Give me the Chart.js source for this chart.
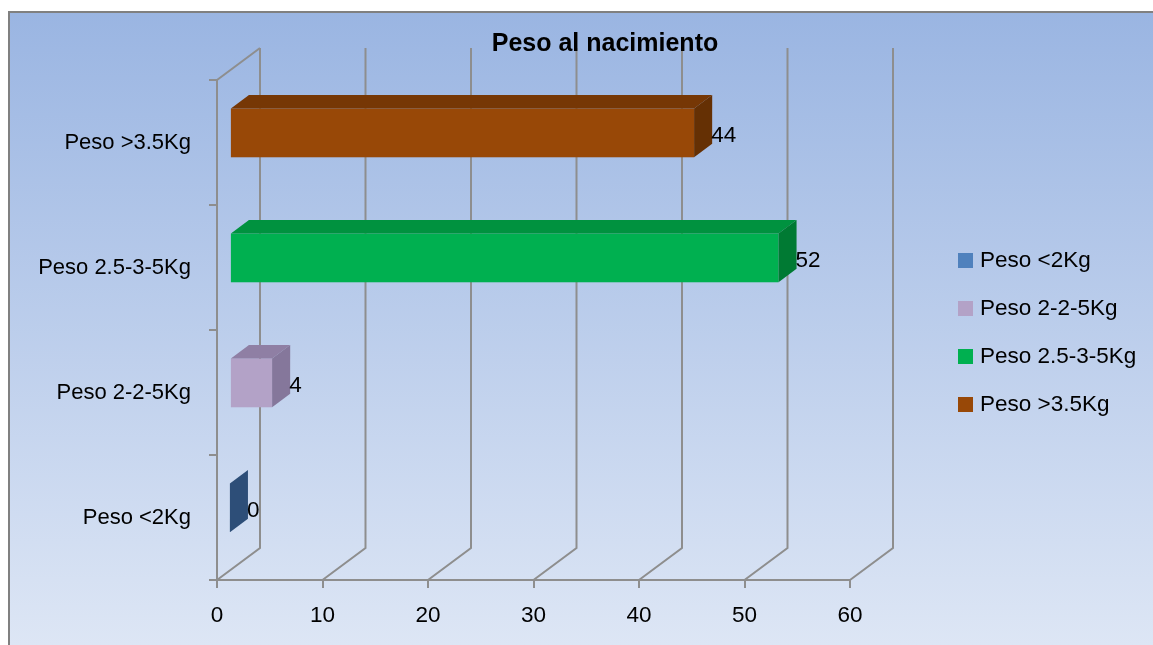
<!DOCTYPE html>
<html>
<head>
<meta charset="utf-8">
<title>Peso al nacimiento</title>
<script src="https://cdn.jsdelivr.net/npm/chart.js@4.4.1/dist/chart.umd.min.js"></script>
<style>
  html, body { margin: 0; padding: 0; background: #fff; }
  #wrap { position: relative; width: 1153px; height: 645px; overflow: hidden; font-family: 'Liberation Sans', Arial, sans-serif; }
  #chart { position: absolute; left: 0; top: 0; }
  #title { position: absolute; left: 405px; width: 400px; top: 28px; text-align: center; font-weight: bold; font-size: 25px; line-height: 28px; color: #000; }
  #legend { position: absolute; left: 958px; top: 246px; margin: 0; padding: 0; list-style: none; }
  #legend li { height: 48px; font-size: 22.5px; line-height: 28px; color: #000; white-space: nowrap; }
  #legend span.box { display: inline-block; width: 15px; height: 15px; margin-right: 7px; vertical-align: -1px; }
</style>
</head>
<body>
<div id="wrap">
  <canvas id="chart" width="1153" height="645"></canvas>
  <div id="title">Peso al nacimiento</div>
  <ul id="legend"></ul>
</div>
<script>
// Chart data
const categories = ['Peso <2Kg', 'Peso 2-2-5Kg', 'Peso 2.5-3-5Kg', 'Peso >3.5Kg'];
const values = [0, 4, 52, 44];
const xTickValues = [0, 10, 20, 30, 40, 50, 60];

// Bar colours: front face, top face, side face
const frontColors = ['#4f81bd', '#b3a2c7', '#00b050', '#984807'];
const topColors = ['#3d6699', '#8f7fa4', '#00923f', '#763705'];
const sideColors = ['#2d4e78', '#85779b', '#007a33', '#653004'];

// 3D depth of the back wall
const DEPTH_X = 43;
const DEPTH_Y = -32;
const BAR_FRONT = 0.3;
const BAR_BACK = 0.72;
const GRID_COLOR = '#8e8e8e';

Chart.defaults.font.family = "'Liberation Sans', Arial, sans-serif";

// Background panel with gradient and border
const framePlugin = {
  id: 'frame',
  beforeDraw(chart) {
    const ctx = chart.ctx;
    ctx.save();
    ctx.fillStyle = '#ffffff';
    ctx.fillRect(0, 0, chart.width, chart.height);
    const grad = ctx.createLinearGradient(0, 12, 0, chart.height);
    grad.addColorStop(0, '#9ab5e2');
    grad.addColorStop(1, '#dde6f5');
    ctx.fillStyle = grad;
    ctx.fillRect(9, 12, chart.width - 9, chart.height - 12);
    ctx.strokeStyle = '#808080';
    ctx.lineWidth = 2;
    ctx.strokeRect(9, 12, chart.width + 10, chart.height + 10);
    ctx.restore();
  },
};

// Back wall + floor grid and 3D bars
const bars3dPlugin = {
  id: 'bars3d',
  beforeDatasetsDraw(chart) {
    const ctx = chart.ctx;
    const xs = chart.scales.x;
    const area = chart.chartArea;

    ctx.save();
    ctx.strokeStyle = GRID_COLOR;
    ctx.lineWidth = 2;
    ctx.lineJoin = 'miter';

    // left wall top edge
    ctx.beginPath();
    ctx.moveTo(area.left, area.top);
    ctx.lineTo(area.left + DEPTH_X, area.top + DEPTH_Y);
    ctx.stroke();

    // floor diagonals + back wall verticals
    xTickValues.forEach(v => {
      const px = xs.getPixelForValue(v);
      ctx.beginPath();
      ctx.moveTo(px, area.bottom);
      ctx.lineTo(px + DEPTH_X, area.bottom + DEPTH_Y);
      ctx.lineTo(px + DEPTH_X, area.top + DEPTH_Y);
      ctx.stroke();
    });

    // bars
    const meta = chart.getDatasetMeta(0);
    const ox1 = DEPTH_X * BAR_FRONT, oy1 = DEPTH_Y * BAR_FRONT;
    const ox2 = DEPTH_X * BAR_BACK, oy2 = DEPTH_Y * BAR_BACK;

    meta.data.forEach((el, i) => {
      const p = el.getProps(['x', 'y', 'base', 'height'], true);
      const top = p.y - p.height / 2;
      const bot = p.y + p.height / 2;
      const x0 = p.base, x1 = p.x;

      // front face
      ctx.fillStyle = frontColors[i];
      ctx.fillRect(x0 + ox1, top + oy1, x1 - x0, bot - top);

      // top face
      ctx.fillStyle = topColors[i];
      ctx.beginPath();
      ctx.moveTo(x0 + ox1, top + oy1);
      ctx.lineTo(x1 + ox1, top + oy1);
      ctx.lineTo(x1 + ox2, top + oy2);
      ctx.lineTo(x0 + ox2, top + oy2);
      ctx.closePath();
      ctx.fill();

      // end face
      ctx.fillStyle = sideColors[i];
      ctx.beginPath();
      ctx.moveTo(x1 + ox1, top + oy1);
      ctx.lineTo(x1 + ox2, top + oy2);
      ctx.lineTo(x1 + ox2, bot + oy2);
      ctx.lineTo(x1 + ox1, bot + oy1);
      ctx.closePath();
      ctx.fill();

      // value label
      ctx.fillStyle = '#000';
      ctx.font = "22.5px 'Liberation Sans', Arial, sans-serif";
      ctx.textAlign = 'left';
      ctx.textBaseline = 'middle';
      ctx.fillText(String(values[i]), x1 + ox2 - 1, p.y - 7);
    });

    ctx.restore();
    return false; // skip the default flat bars
  },
};

const ctx = document.getElementById('chart').getContext('2d');
const chart = new Chart(ctx, {
  type: 'bar',
  data: {
    labels: categories,
    datasets: [{
      label: 'Peso al nacimiento',
      data: values,
      backgroundColor: frontColors,
      barPercentage: 0.39,
      categoryPercentage: 1,
    }],
  },
  options: {
    indexAxis: 'y',
    responsive: false,
    animation: false,
    layout: {
      padding: { top: 80, right: 303, left: 10, bottom: 0 },
    },
    scales: {
      x: {
        min: 0,
        max: 60,
        afterFit(scale) { scale.height = 65; },
        afterBuildTicks(scale) { scale.ticks = xTickValues.map(v => ({ value: v })); },
        grid: {
          drawOnChartArea: false,
          drawTicks: true,
          tickLength: 8,
          color: GRID_COLOR,
          lineWidth: 2,
        },
        border: { display: true, color: GRID_COLOR, width: 2 },
        ticks: {
          color: '#000',
          font: { size: 22.5 },
          padding: 14,
          maxRotation: 0,
        },
      },
      y: {
        reverse: true,
        afterFit(scale) { scale.width = 207; },
        grid: {
          offset: true,
          drawOnChartArea: false,
          drawTicks: true,
          tickLength: 8,
          color: GRID_COLOR,
          lineWidth: 2,
        },
        border: { display: true, color: GRID_COLOR, width: 2 },
        ticks: {
          color: '#000',
          font: { size: 22 },
          padding: 18,
        },
      },
    },
    plugins: {
      legend: { display: false },
      title: { display: false },
      tooltip: { enabled: false },
    },
  },
  plugins: [framePlugin, bars3dPlugin],
});

// HTML legend built from the same arrays
const legendEl = document.getElementById('legend');
legendEl.innerHTML = categories.map((name, i) => `
  <li><span class="box" style="background:${frontColors[i]}"></span>${name.replace('<', '&lt;').replace('>', '&gt;')}</li>
`).join('');
</script>
</body>
</html>
